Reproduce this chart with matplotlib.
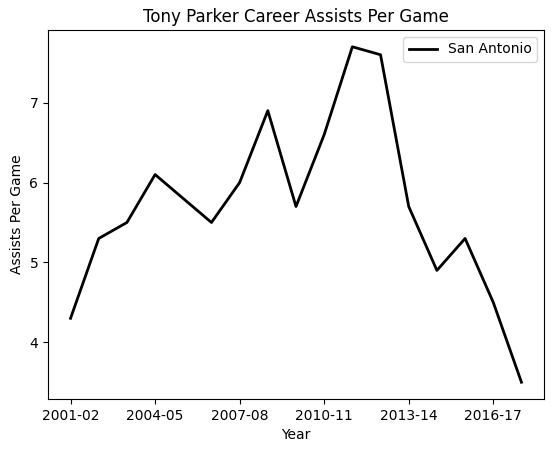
import matplotlib
matplotlib.use("Agg")
import matplotlib.pyplot as plt

# seasons and assists per game
seasons = ["2001-02", "2002-03", "2003-04", "2004-05", "2005-06", "2006-07",
           "2007-08", "2008-09", "2009-10", "2010-11", "2011-12", "2012-13",
           "2013-14", "2014-15", "2015-16", "2016-17", "2017-18"]
assists = [4.3, 5.3, 5.5, 6.1, 5.8, 5.5, 6.0, 6.9, 5.7, 6.6, 7.7, 7.6,
           5.7, 4.9, 5.3, 4.5, 3.5]
team = "San Antonio"

fig = plt.figure(figsize=(5.57, 4.53), dpi=100)
ax = fig.add_axes([48 / 557, 1 - 399 / 453, (544 - 48) / 557, (399 - 30) / 453])

x = list(range(len(seasons)))
ax.plot(x, assists, color="black", linewidth=2, label=team)

ax.set_xticks(x[::3])
ax.set_xticklabels(seasons[::3])
ax.set_yticks([4, 5, 6, 7])

ax.set_xlabel("Year")
ax.set_ylabel("Assists Per Game")
ax.set_title("Tony Parker Career Assists Per Game")
ax.legend(loc="upper right")

fig.savefig("out.png", dpi=100)
